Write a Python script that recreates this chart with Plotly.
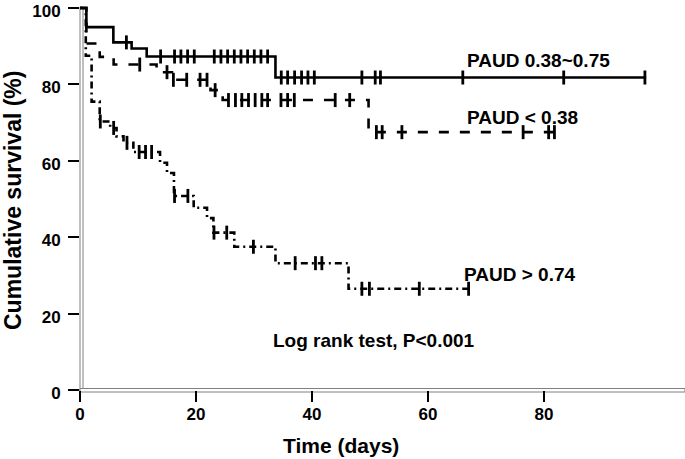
import numpy as np
import plotly.graph_objects as go

# ---- data ----
# PAUD 0.38~0.75 (solid line)
solid_t = [0, 1.1, 5.75, 8.9, 11.5, 33.7, 97.6]
solid_s = [100, 95.0, 91.0, 89.4, 87.3, 81.8, 81.8]
solid_cens = [8.0, 13.9, 16.3, 17.4, 18.55, 19.7, 23.15, 24.3, 25.45, 26.6, 27.75,
              28.9, 30.05, 31.2, 32.35, 34.7, 35.8, 37.0, 38.2, 39.3, 40.4, 48.6,
              50.9, 51.8, 66.0, 83.4, 97.4]

# PAUD < 0.38 (dashed line)
dash_t = [0, 1.1, 3.4, 5.8, 13.2, 15.85, 22.5, 24.6, 49.75, 82.3]
dash_s = [100, 90.7, 87.2, 85.2, 83.2, 81.2, 78.5, 75.9, 67.5, 67.5]
dash_cens = [10.3, 15.0, 16.1, 18.4, 20.7, 21.9, 23.3, 25.6, 26.8, 27.9, 29.05,
             30.2, 31.35, 32.35, 34.65, 35.8, 36.95, 44.0, 46.5, 51.1, 52.1, 55.5,
             76.4, 80.8, 81.8]

# PAUD > 0.74 (dash-dot line)
dd_t = [0, 1.0, 2.0, 3.4, 5.2, 6.3, 7.5, 9.2, 13.8, 15.0, 16.2, 19.6, 21.9, 23.0,
        26.6, 33.7, 46.3, 67.2]
dd_s = [100, 87.5, 75.5, 70.3, 68.6, 66.4, 64.7, 62.3, 59.5, 56.8, 50.8, 47.7, 45.0,
        41.2, 37.5, 33.2, 26.5, 26.5]
dd_cens = [3.5, 5.8, 8.1, 10.2, 11.3, 12.35, 16.3, 18.6, 23.1, 25.3, 29.9, 37.1,
           40.6, 41.7, 48.6, 49.9, 58.5, 67.0]

x_ticks = [0, 20, 40, 60, 80]
y_ticks = [0, 20, 40, 60, 80, 100]

labels = ["PAUD 0.38~0.75", "PAUD < 0.38", "PAUD > 0.74", "Log rank test, P<0.001"]
label_x = [66.3, 66.3, 65.8, 33.0]
label_y = [86.2, 71.4, 30.3, 13.0]

# ---- geometry ----
W, H = 685, 459
ML, MR, MT, MB = 80, 1, 0, 69
PW = W - ML - MR
PH = H - MT - MB
PX_PER_DAY = 5.8
PX_PER_PCT = (PH - 8) / 100
X_MAX = PW / PX_PER_DAY
Y_MAX = 100 + 8 / PX_PER_PCT

FONT = "Liberation Sans, Arial, sans-serif"


def step_at(t, s, c):
    t = np.asarray(t)
    idx = np.searchsorted(t, c, side="right") - 1
    return [s[i] for i in idx]


fig = go.Figure()

series = [
    (solid_t, solid_s, solid_cens, "solid"),
    (dash_t, dash_s, dash_cens, "10px,11px"),
    (dd_t, dd_s, dd_cens, "7px,4px,2px,4px"),
]
for t, s, cens, dash in series:
    fig.add_trace(go.Scatter(
        x=t, y=s, mode="lines", line=dict(color="black", width=2.6, dash=dash, shape="hv"),
        hoverinfo="skip", showlegend=False))
    fig.add_trace(go.Scatter(
        x=cens, y=step_at(t, s, cens), mode="markers",
        marker=dict(symbol="line-ns", size=10, color="black",
                    line=dict(color="black", width=2.8)),
        hoverinfo="skip", showlegend=False, cliponaxis=False))

for txt, lx, ly in zip(labels, label_x, label_y):
    fig.add_annotation(x=lx, y=ly, xref="x", yref="y", text=txt, showarrow=False,
                       xanchor="left", yanchor="middle",
                       font=dict(family=FONT, size=19, color="black", weight="bold"))

# axis titles
fig.add_annotation(x=(13 - ML) / PW, y=(PH - 201) / PH, xref="paper", yref="paper",
                   text="Cumulative survival (%)", textangle=-90, showarrow=False,
                   xanchor="center", yanchor="middle",
                   font=dict(family=FONT, size=23, color="black", weight="bold"))
fig.add_annotation(x=(341 - ML) / PW, y=(PH - 445) / PH, xref="paper", yref="paper",
                   text="Time (days)", showarrow=False, xanchor="center", yanchor="middle",
                   font=dict(family=FONT, size=21, color="black", weight="bold"))

# double-line axes
fig.add_shape(type="rect", xref="paper", yref="paper", layer="below",
              x0=0, x1=3 / PW, y0=(PH - 391) / PH, y1=(PH - 7) / PH,
              line=dict(color="#808080", width=1), fillcolor="white")
fig.add_shape(type="rect", xref="paper", yref="paper", layer="below",
              x0=0, x1=(W - ML) / PW, y0=(PH - 392) / PH, y1=(PH - 388.5) / PH,
              line=dict(color="#808080", width=1), fillcolor="white")

fig.update_xaxes(range=[0, X_MAX], tickvals=x_ticks, ticks="outside", ticklen=11,
                 tickwidth=2, tickcolor="black", showgrid=False, zeroline=False,
                 showline=False, automargin=False, ticklabeloverflow="allow",
                 ticklabelstandoff=-2,
                 tickfont=dict(family=FONT, size=17, color="black", weight="bold"))
fig.update_yaxes(range=[0, Y_MAX], tickvals=y_ticks, ticks="outside", ticklen=11,
                 tickwidth=2, tickcolor="black", showgrid=False, zeroline=False,
                 showline=False, automargin=False, ticklabeloverflow="allow",
                 ticklabelstandoff=4, ticklabelshift=3,
                 tickfont=dict(family=FONT, size=17, color="black", weight="bold"))

fig.update_layout(width=W, height=H, margin=dict(l=ML, r=MR, t=MT, b=MB),
                  paper_bgcolor="white", plot_bgcolor="white", hovermode=False)

fig.write_html("out.html", config={"displayModeBar": False, "staticPlot": True},
               post_script="document.body.style.margin='0';document.body.style.padding='0';")
